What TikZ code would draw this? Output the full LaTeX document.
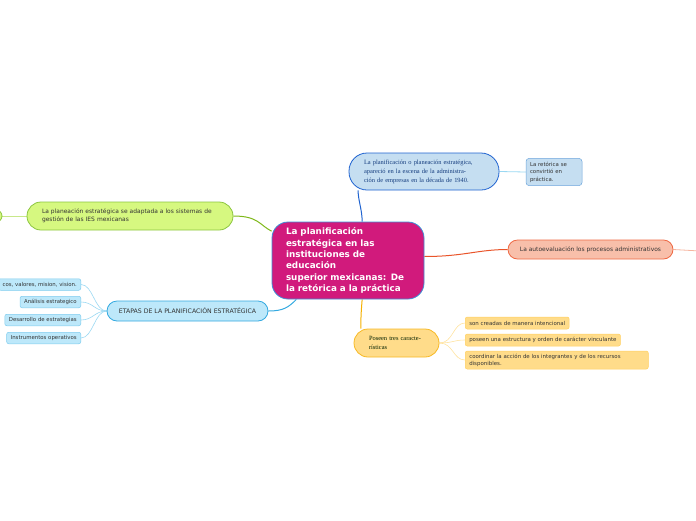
\documentclass[tikz,border=0pt]{standalone}
\usepackage{fontspec}
\setmainfont{DejaVu Sans}
\newfontfamily\vsans{DejaVu Sans}
\newfontfamily\vserif{Liberation Serif}
\usetikzlibrary{backgrounds}
\definecolor{cmag}{HTML}{D11A7C}
\definecolor{cmagb}{HTML}{3D8FD6}
\definecolor{ctopf}{HTML}{C5DEF1}
\definecolor{ctopb}{HTML}{1F63D0}
\definecolor{csmb}{HTML}{6FA6DC}
\definecolor{cgrf}{HTML}{D6F880}
\definecolor{cgrb}{HTML}{8CC63F}
\definecolor{cgrl}{HTML}{7FB81A}
\definecolor{cgrs}{HTML}{C8E88A}
\definecolor{cetf}{HTML}{BDE8FA}
\definecolor{cetb}{HTML}{33A9E0}
\definecolor{cetcb}{HTML}{7FCCEE}
\definecolor{cetl}{HTML}{9AD8F2}
\definecolor{csaf}{HTML}{F8BFAA}
\definecolor{csab}{HTML}{EF6A45}
\definecolor{csal}{HTML}{E9542A}
\definecolor{csas}{HTML}{F6B5A0}
\definecolor{cyef}{HTML}{FFDC8A}
\definecolor{cyeb}{HTML}{F7B924}
\definecolor{cyel}{HTML}{F5B000}
\definecolor{cyecb}{HTML}{FFD060}
\definecolor{cyecl}{HTML}{FFE3A0}
\definecolor{ctxt}{HTML}{333333}
\tikzset{
  central/.style={draw=cmagb, line width=0.8pt, fill=cmag, rounded corners=16pt,
    minimum width=152pt, minimum height=77pt, text width=124pt, inner xsep=14pt,
    align=left, text=white, font=\vsans\bfseries\fontsize{8.8}{11.4}\selectfont},
  topnode/.style={draw=ctopb, line width=0.8pt, fill=ctopf, rounded corners=18pt,
    minimum width=150pt, minimum height=37pt, text width=120pt, inner xsep=15pt,
    align=left, text=ctopb!60!black, font=\vserif\fontsize{6.4}{9}\selectfont},
  smallnode/.style={draw=csmb, line width=0.5pt, fill=ctopf, rounded corners=3pt,
    minimum width=56pt, minimum height=24pt, text width=48pt, inner xsep=4pt,
    align=left, text=ctxt, font=\vsans\fontsize{5.4}{7.5}\selectfont},
  greennode/.style={draw=cgrb, line width=0.8pt, fill=cgrf, rounded corners=14pt,
    minimum width=206pt, minimum height=28pt, text width=176pt, inner xsep=15pt,
    align=left, text=ctxt, font=\vsans\fontsize{5.95}{8}\selectfont},
  etnode/.style={draw=cetb, line width=0.8pt, fill=cetf, rounded corners=10pt,
    minimum width=161pt, minimum height=20pt, align=center, text=ctxt,
    font=\vsans\fontsize{6.2}{7}\selectfont},
  etchild/.style={draw=cetcb, line width=0.5pt, fill=cetf, rounded corners=2pt,
    minimum height=11.5pt, inner xsep=4pt, inner ysep=1pt, text=ctxt,
    font=\vsans\fontsize{5.4}{6}\selectfont},
  salnode/.style={draw=csab, line width=0.8pt, fill=csaf, rounded corners=9.5pt,
    minimum width=165pt, minimum height=19pt, align=center, text=ctxt,
    font=\vsans\fontsize{5.95}{7}\selectfont},
  yelnode/.style={draw=cyeb, line width=0.8pt, fill=cyef, rounded corners=14pt,
    minimum width=85pt, minimum height=28pt, text width=55pt, inner xsep=15pt,
    align=left, text=black!70!green!40!black, font=\vserif\fontsize{6.4}{9}\selectfont},
  yelchild/.style={draw=cyecb, line width=0.5pt, fill=cyef, rounded corners=2pt,
    minimum height=12pt, inner xsep=4pt, inner ysep=1pt, text=ctxt, anchor=west,
    font=\vsans\fontsize{5.45}{6.8}\selectfont},
}
\begin{document}
\begin{tikzpicture}[x=1pt,y=-1pt]
\useasboundingbox (0,0) rectangle (696,520);
\node[central] (c) at (348,260.5) {La planificación\\estratégica en las\\instituciones de\\educación\\superior mexicanas: De\\la retórica a la práctica};
\node[topnode] (t) at (424,171.5) {La planificación o planeación estratégica,\\apareció en la escena de la administra-\\ción de empresas en la década de 1940.};
\node[smallnode] (s) at (554,172) {La retórica se\\convirtió en\\práctica.};
\node[greennode] (g) at (130,216) {La planeación estratégica se adaptada a los sistemas de\\gestión de las IES mexicanas};
\node[draw=cgrb, line width=0.8pt, fill=cgrf, rounded corners=6pt, minimum width=40pt, minimum height=12pt] (gl) at (-18,216) {};
\node[etnode] (e) at (187.5,311) {ETAPAS DE LA PLANIFICACIÓN ESTRATÉGICA};
\node[etchild, anchor=east] (e1) at (81,284.5) {cos, valores, mision, vision.};
\node[etchild, anchor=east] (e2) at (81,302) {Análisis estrategico};
\node[etchild, anchor=east] (e3) at (81,320) {Desarrollo de estrategias};
\node[etchild, anchor=east] (e4) at (81,338) {Instrumentos operativos};
\node[salnode] (a) at (590.5,249.5) {La autoevaluación los procesos administrativos};
\coordinate (aout) at (700,251);
\node[yelnode] (y) at (396.5,343) {Poseen tres caracte-\\rísticas};
\node[yelchild] (y1) at (465,323) {son creadas de manera intencional};
\node[yelchild] (y2) at (465,340) {poseen una estructura y orden de carácter vinculante};
\node[yelchild, text width=175pt, minimum height=18pt, align=left] (y3) at (465,360) {coordinar la acción de los integrantes y de los recursos\\disponibles.};
\begin{pgfonlayer}{background}
\draw[ctopb, line width=1pt] (c.70) .. controls +(0,-12) and +(0,10) .. (t.196.6);
\draw[cetl, line width=0.8pt] (t.east) -- (s.west);
\draw[cgrl, line width=1pt] (g.east) .. controls +(25,0) and +(-12,-6) .. (c.159);
\draw[cgrs, line width=0.8pt] (g.west) -- (gl.east);
\draw[cetb, line width=1pt] (c.217) .. controls +(-8,8) and +(15,0) .. (e.east);
\foreach \k in {1,2,3,4}{
  \draw[cetl, line width=0.6pt] (e.west) .. controls +(-12,0) and +(12,0) .. (e\k.east);
}
\draw[csal, line width=1pt] (c.3) .. controls +(40,0) and +(-30,0) .. (a.west);
\draw[csas, line width=0.8pt] (a.east) -- (aout);
\draw[cyel, line width=1pt] (c.290) .. controls +(-1,12) and +(0,-12) .. (y.158);
\foreach \k in {1,2,3}{
  \draw[cyecl, line width=0.6pt] (y.east) .. controls +(14,0) and +(-12,0) .. (y\k.west);
}
\end{pgfonlayer}
\end{tikzpicture}
\end{document}
